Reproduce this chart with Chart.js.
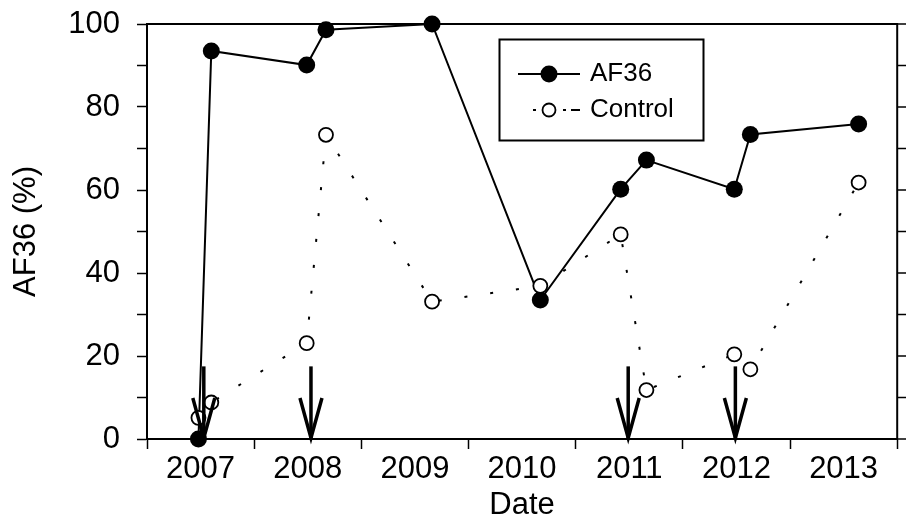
<!DOCTYPE html>
<html>
<head>
<meta charset="utf-8">
<script src="https://cdn.jsdelivr.net/npm/chart.js@4/dist/chart.umd.min.js"></script>
<style>
  html, body { margin: 0; padding: 0; background: #fff; }
  #wrap { width: 906px; height: 521px; }
</style>
</head>
<body>
<div id="wrap"><canvas id="c" width="906" height="521"></canvas></div>
<script>
// ---- data ----
const dates   = [2007.48, 2007.60, 2008.49, 2008.67, 2009.66, 2010.67, 2011.42, 2011.66, 2012.48, 2012.63, 2013.64];
const af36    = [0, 93.5, 90.1, 98.6, 100, 33.5, 60.2, 67.2, 60.2, 73.4, 75.9];
const control = [5.1, 8.8, 23.1, 73.3, 33.1, 36.9, 49.3, 11.8, 20.4, 16.8, 61.8];
const seriesNames = ['AF36', 'Control'];
const yearLabels = ['2007', '2008', '2009', '2010', '2011', '2012', '2013'];
const arrowDates = [2007.53, 2008.53, 2011.49, 2012.49];
const arrowTop = 17.5;
const xTitle = 'Date';
const yTitle = 'AF36 (%)';

const FONT = '"Liberation Sans", Arial, Helvetica, sans-serif';
const AXIS_FONT_SIZE = 31;

const toPts = (xs, ys) => xs.map((x, i) => ({x: x, y: ys[i]}));

const framePlugin = {
  id: 'frame',
  beforeDatasetsDraw(chart) {
    const {ctx, chartArea: a, scales} = chart;
    ctx.save();
    ctx.strokeStyle = '#000';
    ctx.lineWidth = 2;
    ctx.strokeRect(a.left, a.top, a.right - a.left, a.bottom - a.top);
    // right-side tick marks
    ctx.lineWidth = 1.5;
    scales.y.ticks.forEach(t => {
      const y = scales.y.getPixelForValue(t.value);
      ctx.beginPath();
      ctx.moveTo(a.right, y);
      ctx.lineTo(a.right + 10, y);
      ctx.stroke();
    });
    ctx.restore();
  },
  afterDatasetsDraw(chart) {
    const {ctx, scales} = chart;
    const ys = scales.y, xs = scales.x;
    ctx.save();
    ctx.strokeStyle = '#000';
    ctx.lineWidth = 3.5;
    ctx.lineCap = 'butt';
    ctx.lineJoin = 'miter';
    arrowDates.forEach(d => {
      const x = xs.getPixelForValue(d);
      const yT = ys.getPixelForValue(arrowTop);
      const yB = ys.getPixelForValue(0) - 1;
      ctx.beginPath();
      ctx.moveTo(x, yT);
      ctx.lineTo(x, yB);
      ctx.stroke();
      ctx.beginPath();
      ctx.moveTo(x - 11, yB - 40);
      ctx.lineTo(x, yB);
      ctx.lineTo(x + 11, yB - 40);
      ctx.stroke();
    });
    ctx.restore();
  },
  afterDraw(chart) {
    const {ctx} = chart;
    const ds = chart.data.datasets;
    ctx.save();
    // legend box
    ctx.strokeStyle = '#000';
    ctx.lineWidth = 2;
    ctx.strokeRect(499.5, 39.5, 204, 101);
    // AF36 entry
    ctx.lineWidth = 2;
    ctx.beginPath(); ctx.moveTo(518, 74); ctx.lineTo(580, 74); ctx.stroke();
    ctx.fillStyle = '#000';
    ctx.beginPath(); ctx.arc(549, 74, 8.5, 0, Math.PI * 2); ctx.fill();
    // Control entry
    ctx.fillRect(533, 109, 3, 2);
    ctx.fillRect(563, 109, 3, 2);
    ctx.fillRect(571, 109, 9, 2);
    ctx.beginPath(); ctx.arc(549, 110, 6.5, 0, Math.PI * 2);
    ctx.fillStyle = '#fff'; ctx.fill();
    ctx.lineWidth = 1.8; ctx.stroke();
    ctx.fillStyle = '#000';
    ctx.font = '26px ' + FONT;
    ctx.textBaseline = 'middle';
    ctx.textAlign = 'left';
    ctx.fillText(ds[0].label, 590, 74);
    ctx.fillText(ds[1].label, 590, 110);
    ctx.restore();
  }
};

new Chart(document.getElementById('c'), {
  type: 'line',
  data: {
    datasets: [
      {
        label: seriesNames[0],
        data: toPts(dates, af36),
        borderColor: '#000',
        backgroundColor: '#000',
        borderWidth: 2,
        pointRadius: 8.5,
        pointBorderWidth: 0,
        pointBackgroundColor: '#000',
        pointBorderColor: '#000',
        tension: 0,
        clip: false,
        order: 1
      },
      {
        label: seriesNames[1],
        data: toPts(dates, control),
        borderColor: '#000',
        borderWidth: 2,
        borderDash: [3, 23],
        borderCapStyle: 'butt',
        pointRadius: 7,
        pointBorderWidth: 1.8,
        pointBackgroundColor: '#fff',
        pointBorderColor: '#000',
        tension: 0,
        clip: false,
        order: 0
      }
    ]
  },
  options: {
    responsive: false,
    animation: false,
    devicePixelRatio: 1,
    layout: { padding: { top: 24, right: 3.7, left: 0, bottom: 0 } },
    plugins: { legend: { display: false }, tooltip: { enabled: false } },
    scales: {
      x: {
        type: 'linear',
        min: 2007, max: 2014,
        afterFit(s) { s.height = 82; s.paddingLeft = 0; s.paddingRight = 0; },
        border: { display: true, color: '#000', width: 2 },
        grid: {
          display: true, drawOnChartArea: false, drawTicks: true, tickLength: 10,
          tickWidth: 1.5,
          tickColor: (c) => (c.tick && Number.isInteger(c.tick.value)) ? '#000' : 'rgba(0,0,0,0)'
        },
        ticks: {
          stepSize: 0.5, autoSkip: false, maxRotation: 0, minRotation: 0,
          padding: 2, color: '#000',
          font: { family: FONT, size: AXIS_FONT_SIZE },
          callback: (v) => {
            const i = Math.floor(v) - 2007;
            return (Math.abs(v - Math.floor(v) - 0.5) < 1e-6 && i >= 0 && i < yearLabels.length) ? yearLabels[i] : '';
          }
        },
        title: {
          display: true, text: xTitle, color: '#000',
          font: { family: FONT, size: AXIS_FONT_SIZE, lineHeight: 1 },
          padding: { top: 0, bottom: 0 }
        }
      },
      y: {
        type: 'linear',
        min: 0, max: 100,
        afterFit(s) { s.width = 147; s.paddingTop = 0; s.paddingBottom = 0; },
        border: { display: true, color: '#000', width: 2 },
        grid: { display: true, drawOnChartArea: false, drawTicks: true, tickLength: 10, tickWidth: 1.5, tickColor: '#000' },
        ticks: {
          stepSize: 10, autoSkip: false, padding: 17, color: '#000',
          font: { family: FONT, size: AXIS_FONT_SIZE },
          callback: (v) => (v % 20 === 0) ? String(v) : ''
        },
        title: {
          display: true, text: yTitle, color: '#000',
          font: { family: FONT, size: AXIS_FONT_SIZE, lineHeight: 1 },
          padding: { top: 11, bottom: 0 }
        }
      }
    }
  },
  plugins: [framePlugin]
});
</script>
</body>
</html>
